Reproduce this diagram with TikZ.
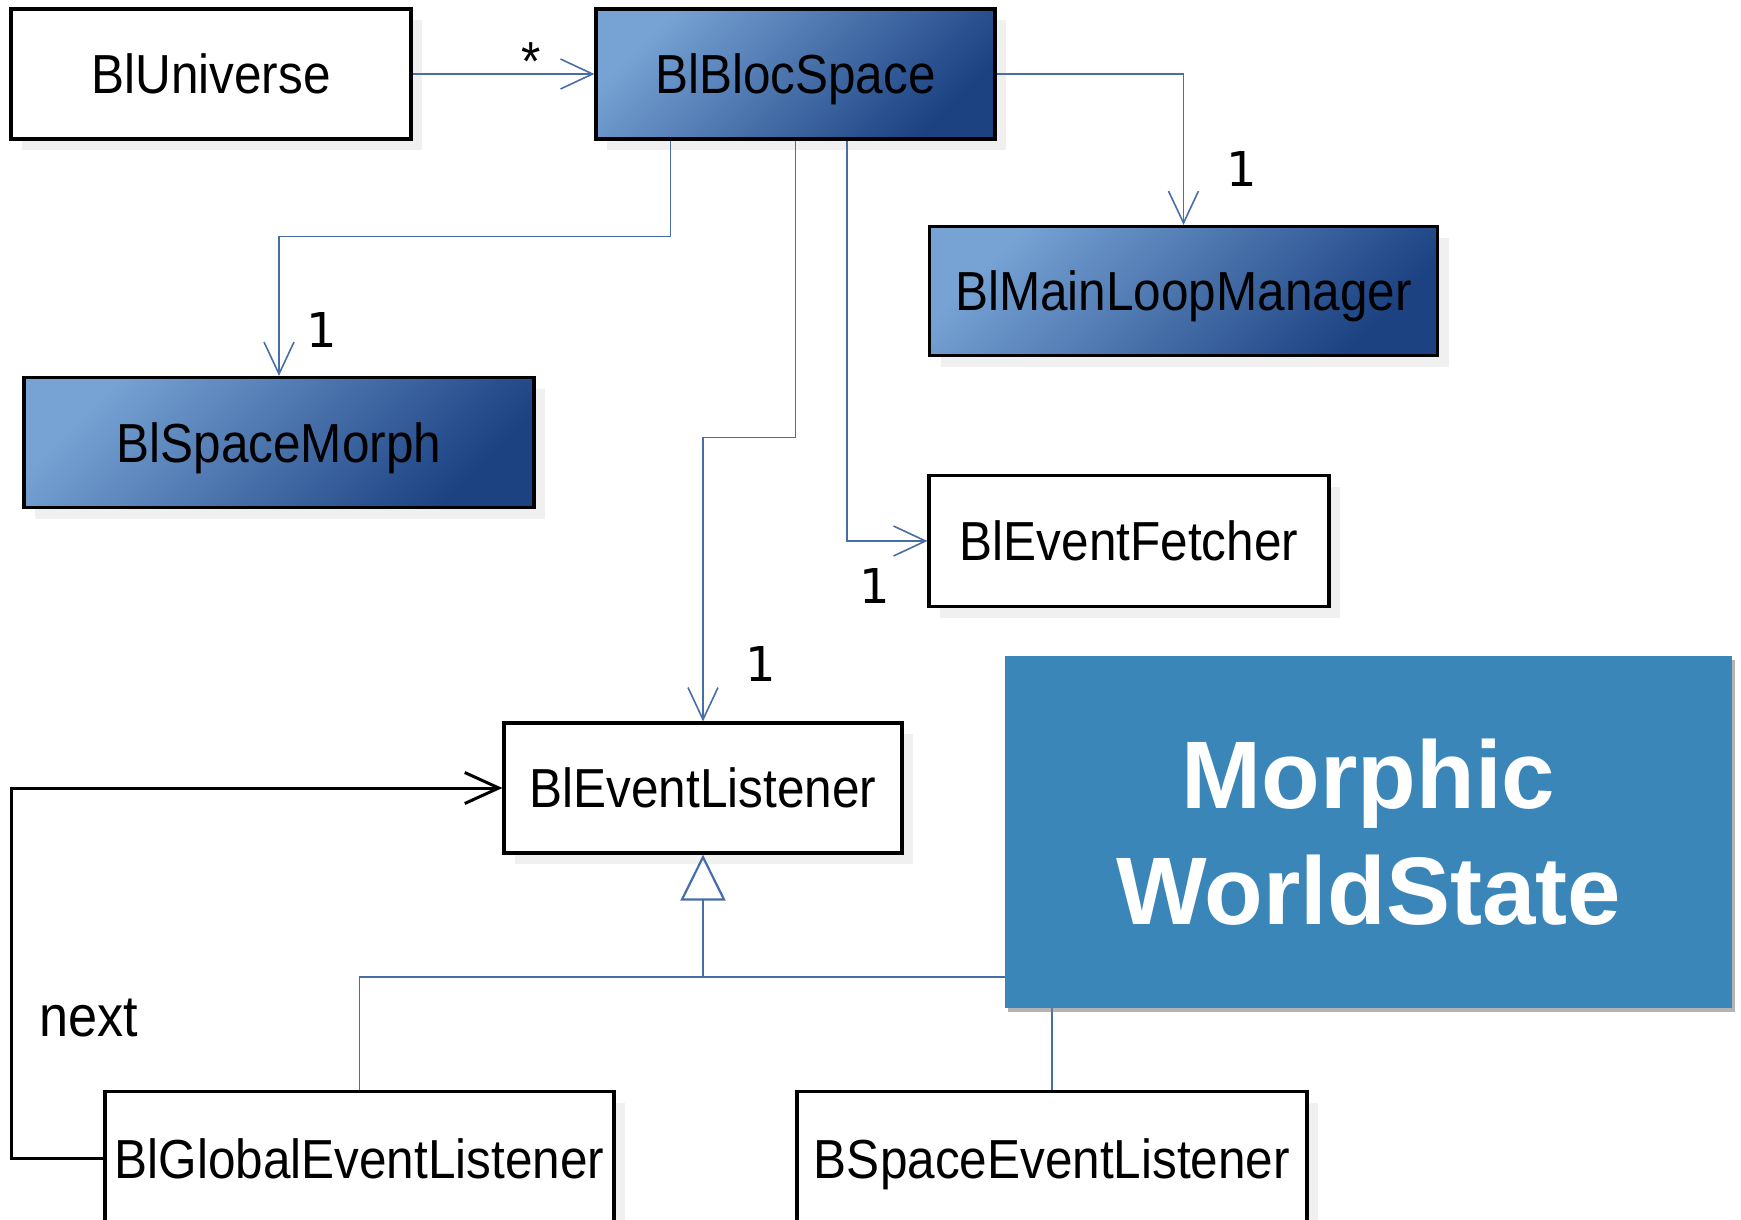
\documentclass[tikz,border=0pt]{standalone}
\usepackage{fontspec}
\setmainfont{Liberation Sans}
\newfontfamily\classfont[FakeStretch=0.9]{Liberation Sans}
\newfontfamily\digitfont{DejaVu Sans}
\usetikzlibrary{arrows.meta,shadows}

\definecolor{umllight}{RGB}{118,162,212}
\definecolor{umldark}{RGB}{28,66,130}
\definecolor{umlline}{RGB}{72,110,168}
\definecolor{slideblue}{RGB}{58,134,184}

\tikzset{
  classbox/.style={draw=black,line width=1.6pt,fill=white,inner sep=0pt,
    text height=19.7pt,text depth=0pt,
    font=\classfont\fontsize{27.5}{33}\selectfont,
    drop shadow={shadow xshift=5.5pt,shadow yshift=-5.5pt,fill=black!6,opacity=1}},
  classdark/.style={classbox,top color=umllight,bottom color=umldark,shading angle=45},
  assoc/.style={draw=umlline,line width=0.8pt,-{Straight Barb[length=16pt,width=15pt]}},
  mult/.style={font=\digitfont\fontsize{24}{28}\selectfont},
  slidebox/.style={fill=slideblue,text=white,align=center,inner sep=0pt,
    font=\bfseries\fontsize{48}{57.7}\selectfont,
    drop shadow={shadow xshift=1.5pt,shadow yshift=-2pt,fill=black!50,opacity=0.6}}
}

\begin{document}
\begin{tikzpicture}[x=0.5pt,y=-0.5pt]
  \useasboundingbox (0,0) rectangle (1741,1220);

  % classes
  \node[classbox,minimum width=200pt,minimum height=65pt] (universe) at (211,74) {BlUniverse};
  \node[classdark,minimum width=199.5pt,minimum height=65pt] (bloc) at (795.5,74) {BlBlocSpace};
  \node[classdark,minimum width=254pt,minimum height=64.5pt] (loop) at (1183.5,291) {BlMainLoopManager};
  \node[classdark,minimum width=255pt,minimum height=65pt] (morph) at (279,442.5) {BlSpaceMorph};
  \node[classbox,minimum width=200pt,minimum height=65.5pt] (fetcher) at (1129,541) {BlEventFetcher};
  \node[classbox,minimum width=199pt,minimum height=65pt] (listener) at (703,788) {BlEventListener};
  \node[classbox,minimum width=254.5pt,minimum height=67pt] (global) at (359.5,1158.5) {BlGlobalEventListener};
  \node[classbox,minimum width=255pt,minimum height=67pt] (spacel) at (1052,1158.5) {BSpaceEventListener};

  % associations
  \draw[assoc] (universe.east) -- (bloc.west);
  \draw[assoc] (bloc.east) -| (loop.north);
  \draw[assoc] ([xshift=-62.5pt]bloc.south) -- ++(0,96) -| (morph.north);
  \draw[assoc] (bloc.south) -- ++(0,297) -| (listener.north);
  \draw[assoc] ([xshift=25.75pt]bloc.south) |- (fetcher.west);
  \draw[black,line width=1.5pt,-{Straight Barb[length=17pt,width=15.5pt]}]
    (global.west) -- ++(-92,0) |- (listener.west);

  % generalization
  \coordinate (join) at (703,977);
  \draw[draw=umlline,line width=0.8pt,{Triangle[open,length=23pt,width=22.5pt,line width=1.1pt]}-]
    (listener.south) -- (join);
  \draw[draw=umlline,line width=0.8pt] (global.north) |- (join) -| (spacel.north);

  % multiplicities
  \node[font=\classfont\fontsize{27.5}{33}\selectfont] (star) at (531,62) {*};
  \node[mult] (m1) at (1242,169) {1};
  \node[mult] (m2) at (322,330) {1};
  \node[mult] (m3) at (760.5,664) {1};
  \node[mult] (m4) at (875,586) {1};
  \node[font=\classfont\fontsize{29}{33}\selectfont] (next) at (89,1018) {next};

  \node[slidebox,minimum width=363.5pt,minimum height=176pt] (state) at (1368.5,832) {Morphic\\WorldState};
\end{tikzpicture}
\end{document}
